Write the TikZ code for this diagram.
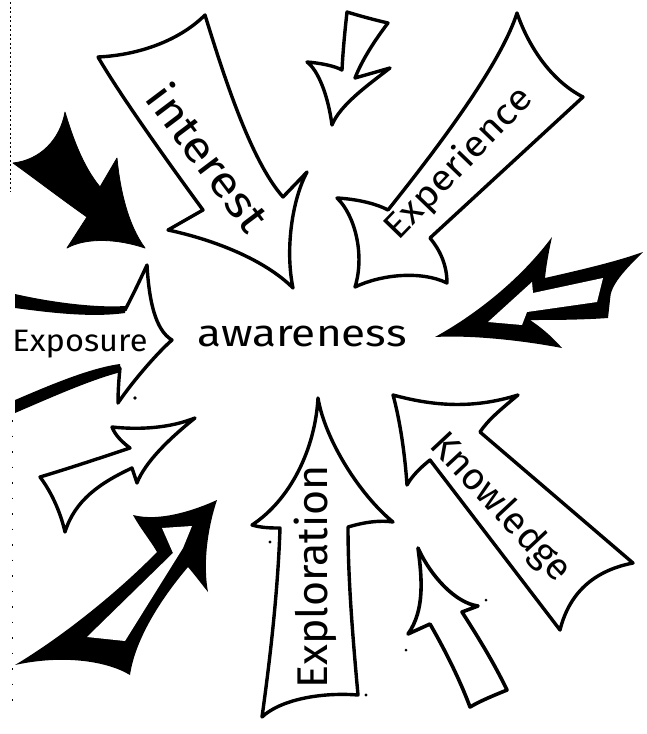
\documentclass[tikz,border=0pt]{standalone}
\usepackage{fontspec}
\setmainfont{Fira Sans}
\begin{document}
\begin{tikzpicture}[x=1pt,y=-1pt,
  outl/.style={draw=black, line width=3.4pt, line join=round, line cap=round, fill=white},
  blackfill/.style={fill=black, draw=black, line width=0.8pt, line join=round},
  lbl/.style={inner sep=0pt},
  speck/.style={fill=black}]
\fill[white] (0,0) rectangle (647,734);
\useasboundingbox (0,0) rectangle (647,734);
% scan edge
\draw[line width=0.9pt, dash pattern=on 2pt off 2.5pt] (10,2) -- (10,192);
\draw[line width=0.9pt, dash pattern=on 1.5pt off 14pt] (12,420) -- (12,712);
% interest arrow
\draw[outl] (98,57) .. controls (140,55) and (180,40) .. (205,15)
  .. controls (222,70) and (250,160) .. (283,197)
  -- (307,172)
  .. controls (292,200) and (285,250) .. (293,288)
  .. controls (265,260) and (215,240) .. (168,230)
  -- (203,210)
  .. controls (170,165) and (120,95) .. (98,57) -- cycle;
\node[lbl, rotate=-53, xscale=1.12, font=\fontsize{44}{44}\selectfont] (interest) at (209,157) {interest};
% small top arrow
\draw[outl] (347,12) .. controls (360,16) and (375,20) .. (388,23)
  .. controls (375,40) and (362,60) .. (355,78)
  -- (390,68)
  .. controls (368,85) and (340,105) .. (332,125)
  .. controls (328,95) and (318,70) .. (307,62)
  .. controls (320,63) and (335,66) .. (342,70)
  .. controls (343,50) and (345,30) .. (347,12) -- cycle;
% experience arrow
\draw[outl] (517,13) .. controls (528,45) and (550,80) .. (583,97)
  -- (430,238)
  .. controls (440,250) and (447,265) .. (447,283)
  .. controls (420,270) and (380,275) .. (355,287)
  .. controls (365,255) and (355,215) .. (337,198)
  .. controls (355,199) and (375,203) .. (388,210)
  .. controls (448,135) and (502,60) .. (517,13) -- cycle;
\node[lbl, rotate=46, xscale=1.1, font=\fontsize{36}{36}\selectfont] (experience) at (459,164) {Experience};
% black filled arrow
\fill[blackfill] (65,112) .. controls (72,135) and (82,165) .. (100,187)
  -- (117,158)
  .. controls (120,190) and (128,225) .. (145,248)
  .. controls (115,238) and (85,238) .. (67,248)
  -- (87,217)
  .. controls (60,198) and (30,175) .. (13,163)
  .. controls (40,160) and (60,140) .. (65,112) -- cycle;
% right outlined arrow
\fill[black] (435,337) .. controls (475,315) and (520,280) .. (552,237)
  .. controls (548,255) and (546,268) .. (545,278)
  .. controls (580,270) and (615,262) .. (643,252)
  .. controls (625,270) and (610,285) .. (610,300)
  -- (608,318)
  .. controls (580,320) and (550,320) .. (530,320)
  .. controls (545,330) and (555,340) .. (562,348)
  .. controls (520,340) and (470,335) .. (435,337) -- cycle;
\fill[white] (488,322) -- (532,282) -- (533,293) -- (603,278) -- (597,302) -- (527,312) -- (522,325) -- cycle;
% exposure arrow
\fill[black] (15,294) .. controls (50,302) and (95,308) .. (125,306) -- (125,313)
  .. controls (90,318) and (45,312) .. (15,308) -- cycle;
\fill[black] (15,400) .. controls (50,385) and (90,368) .. (120,364) -- (121,372)
  .. controls (90,380) and (50,398) .. (15,413) -- cycle;
\draw[outl, fill=none] (125,310) .. controls (133,295) and (140,280) .. (147,265)
  .. controls (149,300) and (155,330) .. (172,340)
  .. controls (155,355) and (130,385) .. (118,403)
  .. controls (118,390) and (119,378) .. (120,368);
\node[lbl, xscale=1.05, font=\fontsize{31}{31}\selectfont] (exposure) at (80,344) {Exposure};
% center text
\node[lbl, xscale=1.16, font=\fontsize{38}{38}\selectfont] (awareness) at (302,336) {awareness};
% small left arrow
\draw[outl] (40,477) .. controls (70,468) and (100,458) .. (130,448)
  .. controls (122,442) and (115,435) .. (112,427)
  .. controls (140,430) and (170,428) .. (195,418)
  .. controls (170,438) and (145,462) .. (137,483)
  -- (132,468)
  .. controls (100,483) and (75,500) .. (65,532)
  .. controls (60,510) and (50,490) .. (40,477) -- cycle;
% bottom-left thick outlined arrow
\fill[black] (15,665) .. controls (65,635) and (120,590) .. (157,552)
  .. controls (150,540) and (140,528) .. (133,515)
  .. controls (160,522) and (195,510) .. (217,500)
  .. controls (207,530) and (203,565) .. (208,592)
  .. controls (200,582) and (194,574) .. (188,567)
  .. controls (160,600) and (135,640) .. (130,675)
  .. controls (105,660) and (60,655) .. (15,665) -- cycle;
\fill[white] (87,637) -- (173,553) -- (162,528) -- (192,526) -- (183,548) -- (125,641) -- cycle;
% exploration arrow
\draw[outl] (318,398) .. controls (315,450) and (290,500) .. (252,525)
  .. controls (262,528) and (272,528) .. (280,528)
  .. controls (278,590) and (270,660) .. (262,717)
  .. controls (280,700) and (320,692) .. (358,695)
  .. controls (353,640) and (348,580) .. (348,527)
  .. controls (365,522) and (380,520) .. (393,522)
  .. controls (360,495) and (325,440) .. (318,398) -- cycle;
\node[lbl, rotate=90, font=\fontsize{43}{43}\selectfont] (exploration) at (315,577) {Exploration};
% knowledge arrow
\draw[outl] (393,395) .. controls (430,405) and (470,410) .. (518,395)
  .. controls (500,410) and (488,420) .. (480,432)
  -- (633,563)
  .. controls (597,570) and (570,590) .. (560,630)
  -- (430,460)
  .. controls (420,468) and (412,476) .. (407,485)
  .. controls (405,455) and (400,420) .. (393,395) -- cycle;
\node[lbl, rotate=-47, font=\fontsize{38}{38}\selectfont] (knowledge) at (500,508) {Knowledge};
% small bottom-right arrow
\draw[outl, line width=3.6pt] (418,548) .. controls (430,575) and (455,603) .. (478,606)
  -- (462,612)
  .. controls (480,640) and (495,665) .. (507,690)
  .. controls (495,695) and (482,700) .. (470,707)
  .. controls (460,680) and (445,650) .. (430,624)
  -- (408,634)
  .. controls (425,610) and (422,578) .. (418,548) -- cycle;
% specks
\fill[speck] (135,398) circle (1.8);
\fill[speck] (270,542) circle (1.6);
\fill[speck] (366,695) circle (1.6);
\fill[speck] (486,600) circle (1.5);
\fill[speck] (406,650) circle (1.5);
\end{tikzpicture}
\end{document}
